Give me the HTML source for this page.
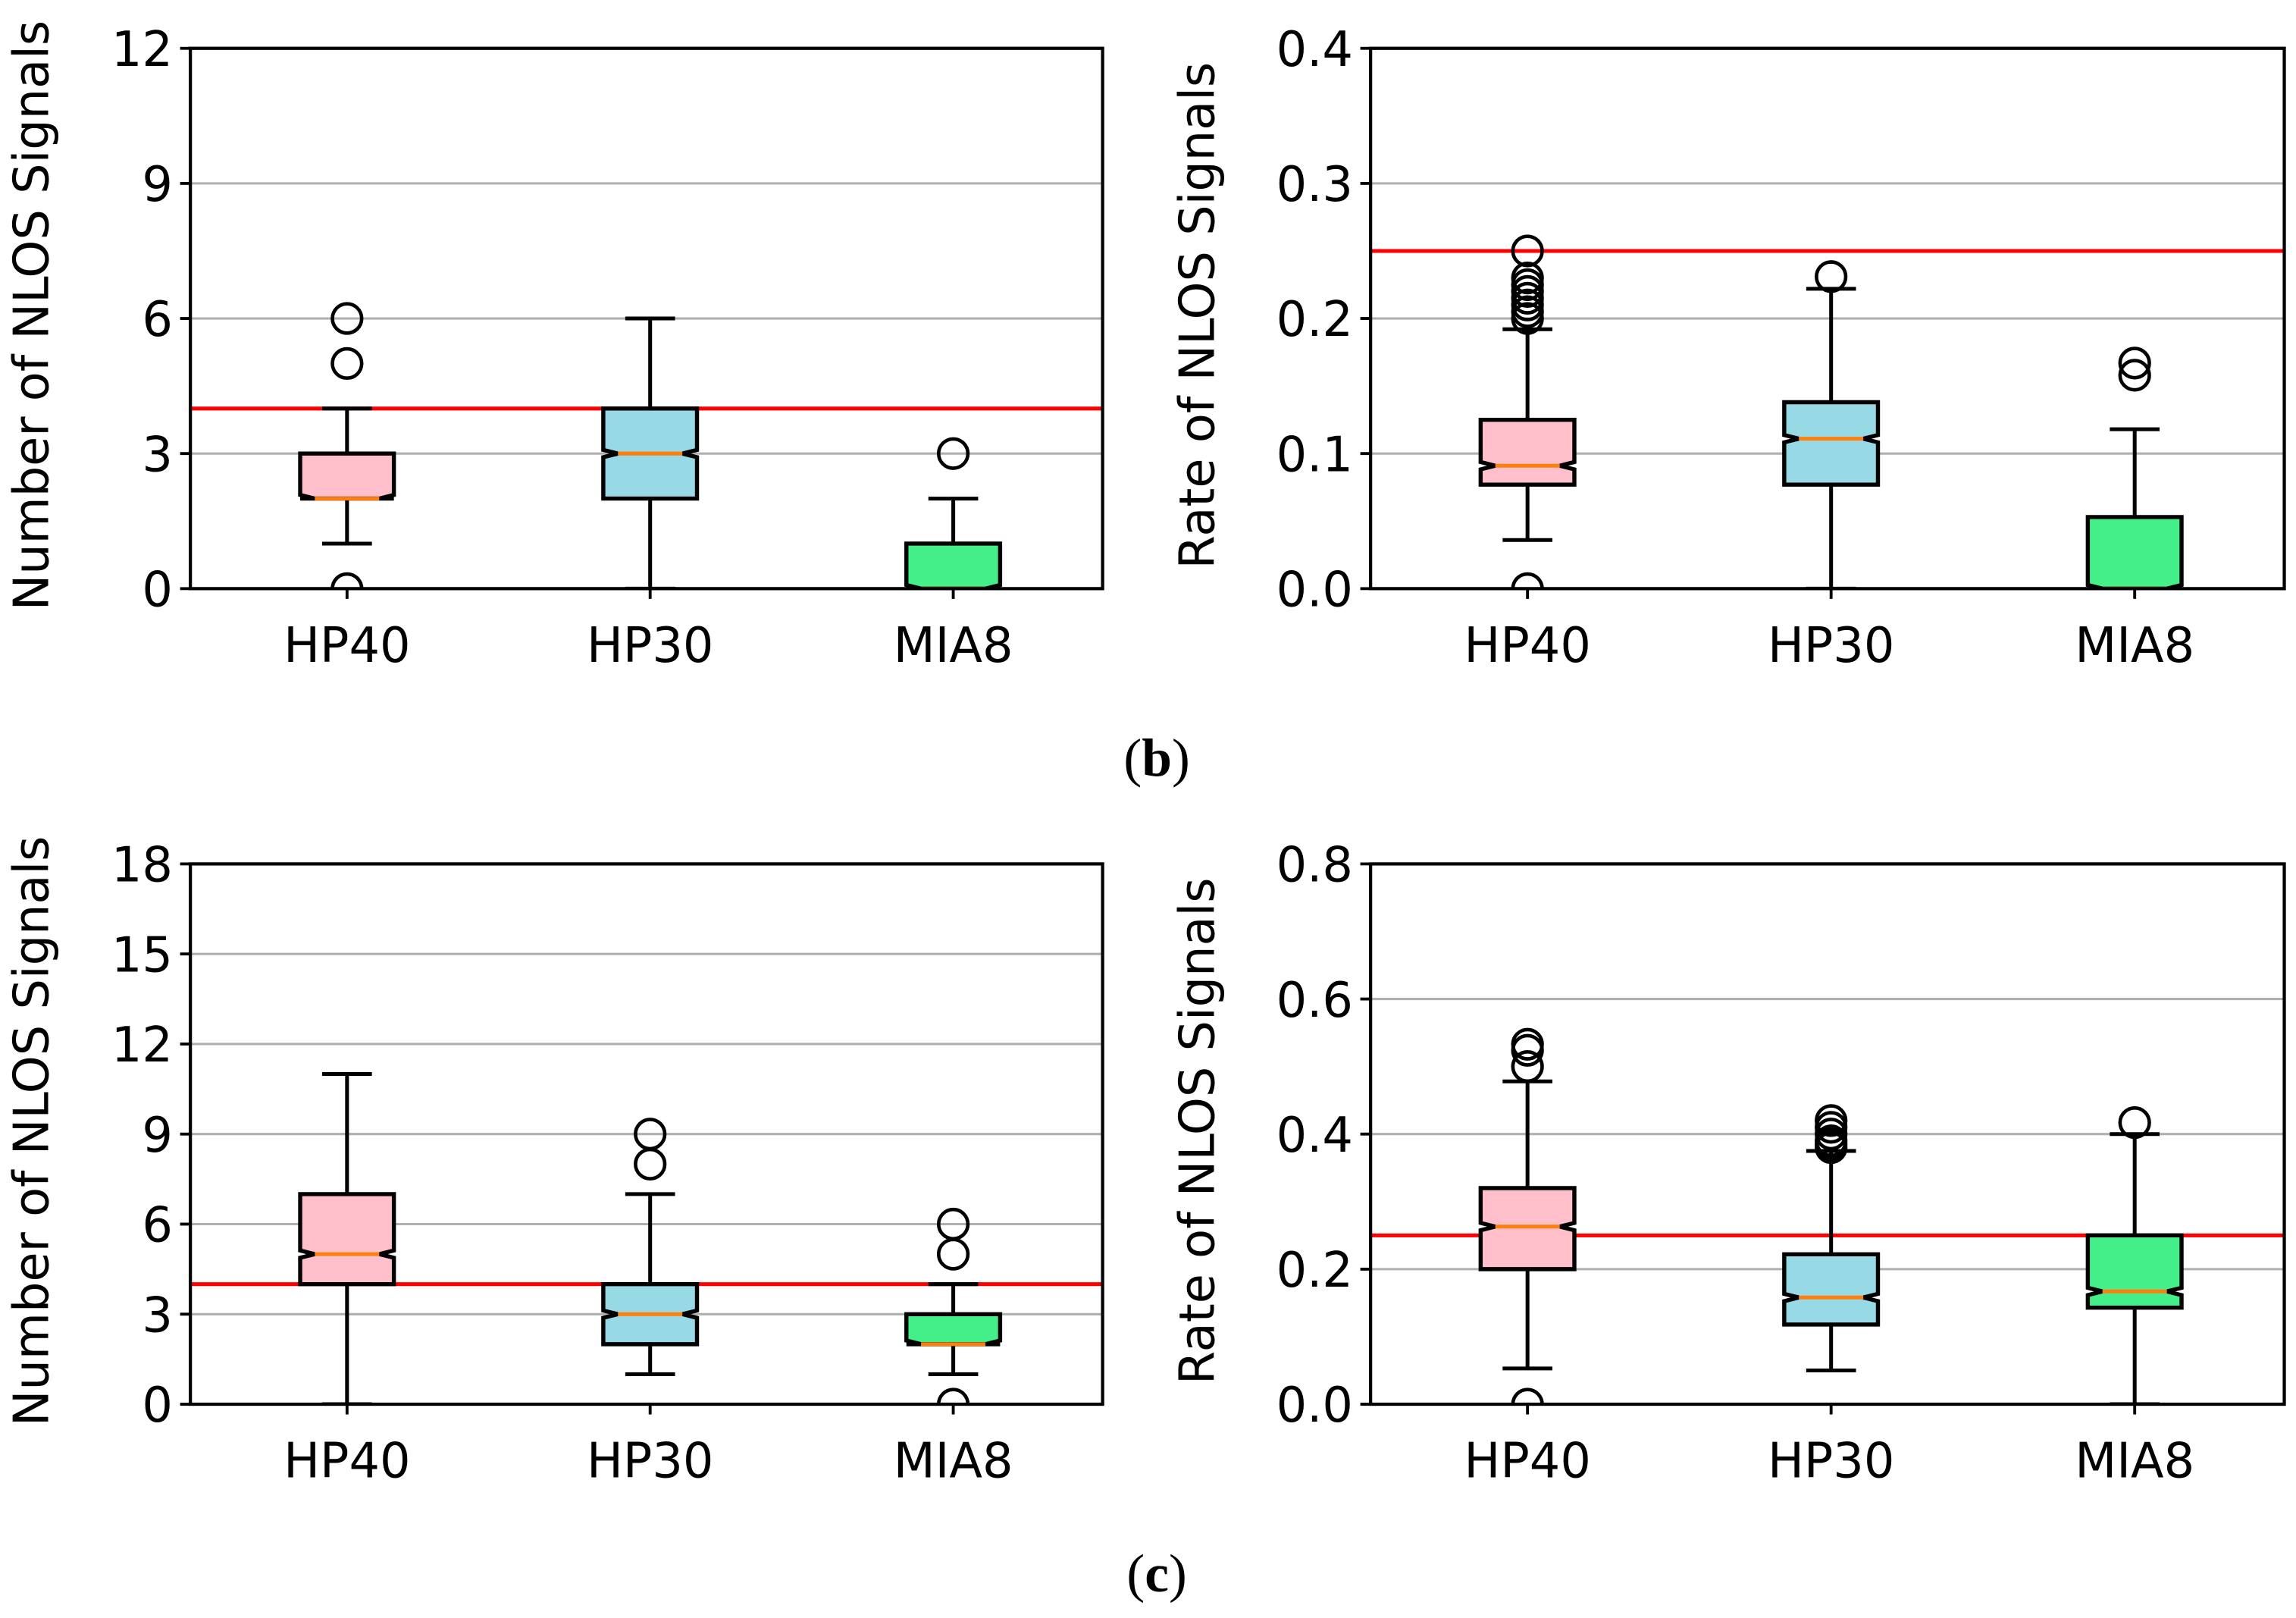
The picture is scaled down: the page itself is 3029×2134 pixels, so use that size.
<!DOCTYPE html>
<html><head><meta charset="utf-8"><style>
html,body{margin:0;padding:0;background:#fff}
svg{display:block}
text{font-family:"DejaVu Sans","Liberation Sans",sans-serif;fill:#000}
</style></head><body>
<svg id="fig" width="3029" height="2134" viewBox="0 0 1568 1105" preserveAspectRatio="none" xmlns="http://www.w3.org/2000/svg">
<text x="790" y="530" text-anchor="middle" style="font-family:'Liberation Serif',serif;font-size:37px">(<tspan font-weight="bold">b</tspan>)</text>
<text x="790" y="1087" text-anchor="middle" style="font-family:'Liberation Serif',serif;font-size:37px">(<tspan font-weight="bold">c</tspan>)</text>
</svg>
<script>
const categories = ["HP40","HP30","MIA8"];
// panel b-left: count
const bL_q1=[2,2,0], bL_med=[2,3,0], bL_q3=[3,4,1], bL_lo=[1,0,0], bL_hi=[4,6,2];
const bL_fliers=[[0,5,6],[],[3]];
const bL_ticks=[0,3,6,9,12], bL_tickLabels=["0","3","6","9","12"];
// panel b-right: rate
const bR_q1=[0.077,0.077,0], bR_med=[0.091,0.111,0], bR_q3=[0.125,0.138,0.053], bR_lo=[0.036,0,0], bR_hi=[0.192,0.222,0.118];
const bR_fliers=[[0,0.2,0.205,0.21,0.215,0.22,0.225,0.23,0.25],[0.231],[0.158,0.167]];
const bR_ticks=[0,0.1,0.2,0.3,0.4], bR_tickLabels=["0.0","0.1","0.2","0.3","0.4"];
// panel c-left: count
const cL_q1=[4,2,2], cL_med=[5,3,2], cL_q3=[7,4,3], cL_lo=[0,1,1], cL_hi=[11,7,4];
const cL_fliers=[[],[8,9],[0,5,6]];
const cL_ticks=[0,3,6,9,12,15,18], cL_tickLabels=["0","3","6","9","12","15","18"];
// panel c-right: rate
const cR_q1=[0.2,0.118,0.143], cR_med=[0.263,0.158,0.167], cR_q3=[0.32,0.222,0.25], cR_lo=[0.053,0.05,0], cR_hi=[0.478,0.375,0.4];
const cR_fliers=[[0,0.5,0.524,0.533],[0.38,0.385,0.39,0.4,0.41,0.42],[0.417]];
const cR_ticks=[0,0.2,0.4,0.6,0.8], cR_tickLabels=["0.0","0.2","0.4","0.6","0.8"];
const thresholds=[4,0.25,4,0.25];
const fills=["#ffc0cb","#98d9e6","#44ee88"];

const NS="http://www.w3.org/2000/svg";
const svg=document.getElementById('fig');
function mk(tag,attrs,parent){const e=document.createElementNS(NS,tag);for(const k in attrs)e.setAttribute(k,attrs[k]);(parent||svg).appendChild(e);return e;}

const panels=[
 {id:'b-left',x0:130,x1:753,y0:33,y1:402,q1:bL_q1,med:bL_med,q3:bL_q3,lo:bL_lo,hi:bL_hi,fl:bL_fliers,t:bL_ticks,tl:bL_tickLabels,yl:"Number of NLOS Signals",thr:thresholds[0],labx:33},
 {id:'b-right',x0:936,x1:1560,y0:33,y1:402,q1:bR_q1,med:bR_med,q3:bR_q3,lo:bR_lo,hi:bR_hi,fl:bR_fliers,t:bR_ticks,tl:bR_tickLabels,yl:"Rate of NLOS Signals",thr:thresholds[1],labx:829},
 {id:'c-left',x0:130,x1:753,y0:590,y1:959,q1:cL_q1,med:cL_med,q3:cL_q3,lo:cL_lo,hi:cL_hi,fl:cL_fliers,t:cL_ticks,tl:cL_tickLabels,yl:"Number of NLOS Signals",thr:thresholds[2],labx:33},
 {id:'c-right',x0:936,x1:1560,y0:590,y1:959,q1:cR_q1,med:cR_med,q3:cR_q3,lo:cR_lo,hi:cR_hi,fl:cR_fliers,t:cR_ticks,tl:cR_tickLabels,yl:"Rate of NLOS Signals",thr:thresholds[3],labx:829}
];

panels.forEach((p,pi)=>{
  const g=mk('g',{});
  
  
  const ymax=p.t[p.t.length-1], ymin=p.t[0];
  const ys=v=>p.y1-(v-ymin)/(ymax-ymin)*(p.y1-p.y0);
  const xs=i=>p.x0+(p.x1-p.x0)*(107+207*i)/623;
  const cid='clip'+pi;
  const cp=mk('clipPath',{id:cid},g);
  mk('rect',{x:p.x0,y:p.y0,width:p.x1-p.x0,height:p.y1-p.y0},cp);
  p.t.forEach((v,i)=>{
    if(i>0&&i<p.t.length-1){
      const gl=mk('line',{x1:p.x0,x2:p.x1,y1:ys(v),y2:ys(v),stroke:'#b0b0b0','stroke-width':1.6},g);
      
      
    }
    const tk=mk('line',{x1:p.x0-7,x2:p.x0,y1:ys(v),y2:ys(v),stroke:'#000','stroke-width':2},g);
    
    
    const tx=mk('text',{x:p.x0-12,y:ys(v)+12,'text-anchor':'end','font-size':33},g);
    tx.textContent=p.tl[i];
    
    
  });
  const th=mk('line',{x1:p.x0,x2:p.x1,y1:ys(p.thr),y2:ys(p.thr),stroke:'#ff0000','stroke-width':2.6},g);
  
  
  const cg=mk('g',{'clip-path':'url(#'+cid+')'},g);
  categories.forEach((c,i)=>{
    const cx=xs(i), hw=32, cw=17, ni=10, nh=2.5;
    const wl=mk('line',{x1:cx,x2:cx,y1:ys(p.q1[i]),y2:ys(p.lo[i]),stroke:'#000','stroke-width':2.6},cg);
    
    
    const wh=mk('line',{x1:cx,x2:cx,y1:ys(p.q3[i]),y2:ys(p.hi[i]),stroke:'#000','stroke-width':2.6},cg);
    
    
    [p.lo[i],p.hi[i]].forEach(v=>{
      const cap=mk('line',{x1:cx-cw,x2:cx+cw,y1:ys(v),y2:ys(v),stroke:'#000','stroke-width':2.6},cg);
      
      
    });
    const yq1=ys(p.q1[i]), yq3=ys(p.q3[i]), ym=ys(p.med[i]);
    const nlo=Math.min(ym+nh,yq1), nhi=Math.max(ym-nh,yq3);
    const d=`M${cx-hw},${yq1} L${cx+hw},${yq1} L${cx+hw},${nlo} L${cx+hw-ni},${ym} L${cx+hw},${nhi} L${cx+hw},${yq3} L${cx-hw},${yq3} L${cx-hw},${nhi} L${cx-hw+ni},${ym} L${cx-hw},${nlo} Z`;
    const bx=mk('path',{d:d,fill:fills[i],stroke:'#000','stroke-width':2.8,'stroke-linejoin':'miter'},cg);
    
    
    const md=mk('line',{x1:cx-hw+ni,x2:cx+hw-ni,y1:ym,y2:ym,stroke:'#ff7f0e','stroke-width':2.6},cg);
    
    
    p.fl[i].forEach(v=>{
      const f=mk('circle',{cx:cx,cy:ys(v),r:10,fill:'none',stroke:'#000','stroke-width':2.4},cg);
      
      
    });
    const xt=mk('line',{x1:cx,x2:cx,y1:p.y1,y2:p.y1+7,stroke:'#000','stroke-width':2},g);
    
    
    const xl=mk('text',{x:cx,y:p.y1+50,'text-anchor':'middle','font-size':33},g);
    xl.textContent=c;
    
    
  });
  const fr=mk('rect',{x:p.x0,y:p.y0,width:p.x1-p.x0,height:p.y1-p.y0,fill:'none',stroke:'#000','stroke-width':2.2},g);
  
  
  const cyl=(p.y0+p.y1)/2-2;
  const yl=mk('text',{x:p.labx,y:cyl,'text-anchor':'middle','font-size':33,transform:`rotate(-90 ${p.labx} ${cyl})`},g);
  yl.textContent=p.yl;
  
  
});
</script>
</body></html>
